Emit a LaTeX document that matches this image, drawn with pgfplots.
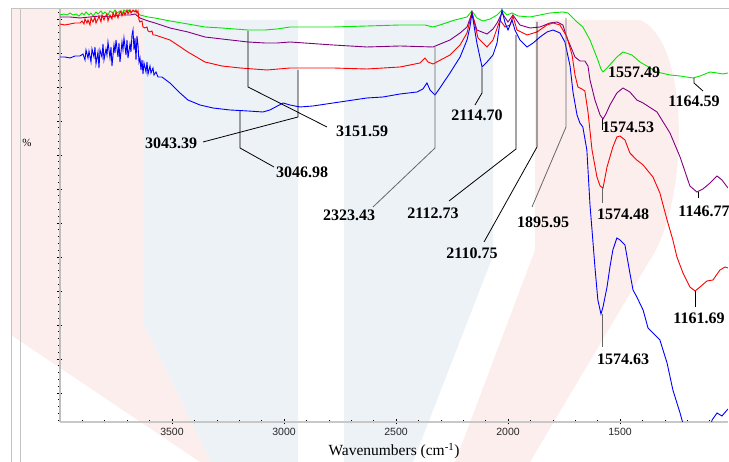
\documentclass[border=0pt]{standalone}
\usepackage{pgfplots}
\pgfplotsset{compat=1.18}
\usepackage{fontspec}
\setmainfont{Liberation Serif}
\newfontfamily\sansf{Liberation Sans}
\definecolor{gline}{RGB}{0,230,0}
\definecolor{pline}{RGB}{128,0,128}
\definecolor{rline}{RGB}{255,0,0}
\definecolor{bline}{RGB}{0,0,255}
\definecolor{pinkwm}{RGB}{253,238,238}
\definecolor{bluewm}{RGB}{237,242,247}
\definecolor{framegray}{RGB}{195,195,195}
\definecolor{xaxgray}{RGB}{200,200,200}
\definecolor{yaxgray}{RGB}{190,190,190}
\begin{document}
\begin{tikzpicture}[x=1pt,y=1pt]
\useasboundingbox (0,0) rectangle (729,462);
\begin{scope}[y=-1pt,yshift=462pt]
\fill[pinkwm] (11,9) -- (144,9) -- (144,325) -- (211,462) -- (200,462) -- (11,335) -- cycle;
\fill[bluewm] (144,20) -- (298,20) -- (298,462) -- (211,462) -- (144,325) -- cycle;
\fill[bluewm] (344,20) -- (493,20) -- (493,256) -- (413,462) -- (344,462) -- cycle;
\fill[pinkwm] (535,20) -- (640,20) .. controls (690,40) and (690,200) .. (650,260) -- (530,462) -- (455,462) -- (535,250) -- cycle;
\draw[framegray,line width=1pt] (11,462) -- (11,9) -- (729,9);
\draw[framegray,line width=1pt] (20,462) -- (20,9);
\end{scope}
\begin{axis}[
  at={(60pt,40pt)}, anchor=south west, scale only axis,
  width=668pt, height=413pt,
  xmin=1018, xmax=4000, ymin=0, ymax=413, x dir=reverse,
  axis x line*=bottom, axis y line*=left,
  x axis line style={-, draw=xaxgray, line width=2pt},
  y axis line style={-, draw=yaxgray, line width=1.2pt},
  xtick={1500,2000,2500,3000,3500},
  minor xtick={1100,1200,...,3900},
  ytick={29,63,97,131,165,199,233,267,301,335,369,403},
  yticklabels={},
  minor ytick={1.8,8.6,...,410},
  tick align=center, major tick length=5pt, minor tick length=3pt,
  tick style={black, line width=0.6pt},
  /pgf/number format/assume math mode=true,
  /pgf/number format/1000 sep={},
  xticklabel style={font=\sansf\fontsize{10.5}{12}\selectfont, text=black!85},
  clip=true,
]
\addplot[gline, line width=0.9pt] coordinates {
(4000,407)(3982.1,408)(3968.8,407)(3955.4,409)(3942.0,407)(3928.6,408)(3915.2,406)(3901.8,409)(3892.9,407)(3883.9,410)(3870.5,407)(3861.6,409)(3852.7,406)(3839.3,410)(3830.4,408)(3817.0,411)(3808.0,408)(3799.1,410)(3785.7,407)(3776.8,411)(3763.4,409)(3754.5,412)(3745.6,409)(3732.2,411)(3723.2,408)(3714.3,412)(3700.9,410)(3691.9,412)(3683.1,410)(3669.6,411)(3656.3,410)(3642.9,407)(3607,405)(3576,404)(3509,401)(3429,398)(3353,395)(3277,394)(3161,392)(3085,392)(3031,393)(2973,395)(2781,395)(2630,396)(2482,397)(2371,397)(2335,395)(2304,397)(2237,402)(2183,405)(2161,411)(2139,404)(2112,401)(2080,403)(2049,407)(2027,412)(2005,407)(1982,409)(1955,406)(1902,405)(1813,409)(1755,410)(1732,409)(1714,405)(1692,400)(1666,395)(1634,382)(1599,362)(1585,353)(1576,350)(1558,354)(1514,365)(1487,370)(1447,367)(1411,360)(1335,350)(1277,347)(1232,346)(1174,344)(1143,346)(1098,350)(1067,349)(1040,348)(1018,349)
};
\addplot[pline, line width=0.9pt] coordinates {
(4000,405)(3955,405)(3911,404)(3866,405)(3821,406)(3777,405)(3732,407)(3687,407)(3665,408)(3643,404)(3607,401)(3576,399)(3509,394)(3429,390)(3353,385)(3277,383)(3161,380)(3085,379)(3031,379)(2973,380)(2781,377)(2630,375)(2482,376)(2335,375)(2259,382)(2214,389)(2183,395)(2161,409)(2139,392)(2094,388)(2067,393)(2049,399)(2027,409)(2000,400)(1978,407)(1947,397)(1902,394)(1857,395)(1813,399)(1781,400)(1755,397)(1737,384)(1723,377)(1701,365)(1679,361)(1657,361)(1643,356)(1634,342)(1612,322)(1589,307)(1576,303)(1563,308)(1545,317)(1514,329)(1487,334)(1456,330)(1425,322)(1397,319)(1335,310)(1277,289)(1232,265)(1188,236)(1157,230)(1130,233)(1098,239)(1067,246)(1045,242)(1018,234)
};
\addplot[rline, line width=0.9pt] coordinates {
(4000,398)(3978,397)(3955,398)(3933,399)(3910.7,399)(3901.8,401)(3892.9,398)(3888.4,403)(3879.5,399)(3875.0,402)(3866.1,397)(3861.6,404)(3852.7,400)(3843.8,405)(3839.3,399)(3830.4,403)(3825.9,406)(3817.0,400)(3812.5,407)(3803.6,402)(3799.1,405)(3790.2,408)(3785.7,401)(3776.8,407)(3767.9,403)(3763.4,409)(3754.5,405)(3750.0,410)(3741.1,404)(3736.6,408)(3727.7,411)(3723.2,406)(3714.3,410)(3709.8,407)(3700.9,412)(3696.4,408)(3687.5,412)(3683.1,409)(3674.1,412)(3665.2,410)(3660.7,412)(3656.3,409)(3651.8,411)(3647.3,402)(3642.9,400)(3633.9,401)(3629.5,395)(3620.6,394)(3611.6,395)(3607.2,391)(3598.2,390)(3589.3,391)(3584.8,387)(3576,387)(3509,382)(3429,370)(3353,360)(3277,356)(3196,354)(3076,352)(2973,354)(2781,354)(2630,353)(2482,355)(2393,359)(2371,364)(2357,360)(2335,358)(2259,367)(2214,377)(2183,389)(2161,410)(2134,384)(2094,375)(2067,382)(2036,402)(2013,395)(1991,397)(1978,406)(1960,392)(1915,387)(1871,390)(1826,397)(1799,399)(1768,397)(1737,385)(1714,367)(1701,347)(1688,335)(1670,333)(1657,331)(1643,310)(1625,272)(1603,245)(1589,236)(1576,234)(1558,255)(1532,275)(1514,285)(1500,286)(1478,282)(1456,269)(1425,262)(1397,257)(1353,245)(1322,229)(1290,202)(1264,182)(1246,165)(1219,149)(1188,135)(1165,131)(1143,135)(1112,141)(1085,142)(1054,152)(1031,155)(1018,154)
};
\addplot[bline, line width=0.9pt] coordinates {
(4000,365)(3978,365)(3955,364)(3933,366)(3911,366)(3897.3,368)(3888.4,362)(3883.9,372)(3875.0,364)(3870.5,371)(3861.6,360)(3857.1,373)(3848.2,365)(3843.8,375)(3839.3,358)(3830.4,370)(3825.9,354)(3821.4,372)(3812.5,365)(3808.0,378)(3803.6,362)(3794.7,373)(3790.2,367)(3785.7,380)(3776.8,364)(3772.3,375)(3767.9,356)(3758.9,377)(3754.5,369)(3750.0,382)(3741.1,365)(3736.6,379)(3732.2,360)(3723.2,380)(3718.8,372)(3714.3,384)(3705.4,367)(3700.9,382)(3696.4,364)(3687.5,378)(3683.1,370)(3678.6,387)(3674.1,392)(3669.6,372)(3665.2,384)(3660.7,362)(3656.3,386)(3651.8,377)(3647.3,360)(3642.9,364)(3638.4,352)(3633.9,362)(3629.5,348)(3625.0,359)(3616.1,350)(3611.6,360)(3607.2,348)(3598.2,356)(3593.8,349)(3584.8,354)(3580.4,347)(3571.4,350)(3562.5,345)(3545,345)(3509,339)(3464,329)(3429,322)(3375,317)(3317,314)(3241,312)(3161,311)(3094,310)(3063,312)(3004,319)(2973,317)(2929,315)(2871,316)(2781,319)(2630,324)(2558,325)(2482,328)(2406,330)(2380,333)(2362,339)(2348,332)(2326,327)(2304,334)(2259,349)(2214,365)(2183,382)(2170,395)(2161,409)(2139,379)(2116,355)(2094,360)(2067,367)(2049,379)(2036,400)(2027,412)(2013,399)(2000,392)(1982,402)(1969,392)(1947,382)(1915,375)(1888,379)(1857,385)(1826,390)(1799,392)(1768,389)(1746,380)(1723,356)(1710,330)(1692,307)(1679,299)(1666,295)(1648,272)(1634,217)(1625,192)(1612,155)(1599,122)(1585,108)(1576,115)(1558,135)(1545,155)(1532,172)(1514,184)(1500,182)(1478,177)(1456,149)(1442,132)(1425,125)(1397,112)(1375,94)(1353,89)(1322,82)(1290,59)(1264,32)(1232,9)(1205,-13)(1143,-48)(1089,2)(1067,9)(1045,6)(1022,12)(1018,13)
};
\end{axis}
\begin{scope}[y=-1pt,yshift=462pt]
\node[font=\fontsize{15.5}{16}\selectfont, inner sep=0pt] at (394,451) {Wavenumbers (cm\textsuperscript{-1})};
\node[font=\fontsize{11}{12}\selectfont, inner sep=0pt] at (27,143) {\%};
\begin{scope}[black, line width=0.8pt]
\draw (248,31) -- (248,87) -- (327,127);
\draw (298,70) -- (298,117) -- (203,142);
\draw (240,111) -- (240,148) -- (274,167);
\draw[black!60] (435,47) -- (435,148) -- (373,207);
\draw (482,68) -- (482,93) -- (475,105);
\draw (516,35) -- (516,149) -- (449,201);
\draw (537,22) -- (537,147) -- (484,242);
\draw[black!60] (566,18) -- (566,127) -- (532,207);
\draw (694,78) -- (694,83) -- (703,91);
\draw (602,119) -- (602,130);
\draw[black!60] (602,188) -- (602,203);
\draw (698,192) -- (698,198);
\draw (695,291) -- (695,307);
\draw[black!60] (602,314) -- (602,347);
\end{scope}
\begin{scope}[every node/.style={font=\bfseries\fontsize{16}{16}\selectfont, inner sep=0pt}]
\node at (362,131) {3151.59};
\node at (171,143) {3043.39};
\node at (302,172) {3046.98};
\node at (349,215) {2323.43};
\node at (477,115) {2114.70};
\node at (433,213) {2112.73};
\node at (472,253) {2110.75};
\node at (543,222) {1895.95};
\node at (634,72) {1557.49};
\node at (694,101) {1164.59};
\node at (628,127) {1574.53};
\node at (623,214) {1574.48};
\node at (704,211) {1146.77};
\node at (699,318) {1161.69};
\node at (623,359) {1574.63};
\end{scope}
\end{scope}
\end{tikzpicture}
\end{document}
